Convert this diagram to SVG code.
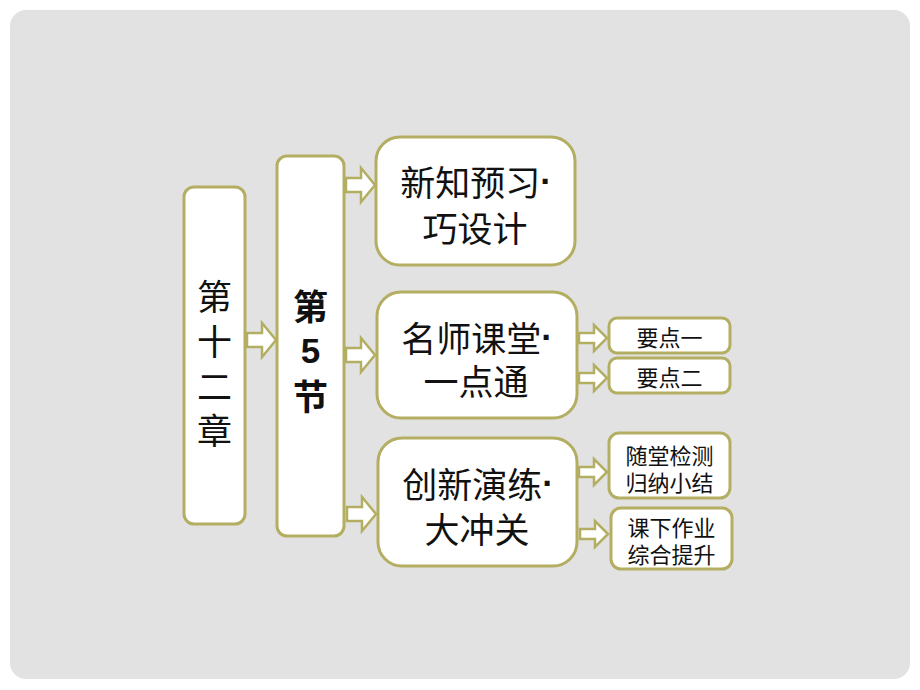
<svg xmlns="http://www.w3.org/2000/svg" width="920" height="690" viewBox="0 0 920 690">
<style>
.box{fill:#ffffff;stroke:#b3ae62;stroke-width:3}
.arr{fill:#ffffff;stroke:#b3ae62;stroke-width:2.5;stroke-linejoin:miter}
.t{font-family:"Noto Sans CJK SC","Noto Sans",sans-serif;fill:#111111;text-anchor:middle;dominant-baseline:central}
.big{font-size:35px}
.sm{font-size:22px}
.b{font-weight:bold}
.dot{font-family:"Liberation Sans",sans-serif;font-weight:bold}
</style>
<defs>
<path id="ab" d="M0,-7 H15 V-17 L29,0 L15,17 V7 H0 Z"/>
<path id="as" d="M0,-5 H15 V-13 L28,0 L15,13 V5 H0 Z"/>
</defs>
<rect x="0" y="0" width="920" height="690" fill="#ffffff"/>
<rect x="10" y="10" width="900" height="669" rx="16" fill="#e2e2e2"/>
<g id="connectors">
<use href="#ab" class="arr" x="247" y="340"/>
<use href="#ab" class="arr" x="346" y="185"/>
<use href="#ab" class="arr" x="346" y="355"/>
<use href="#ab" class="arr" x="347" y="514"/>
<use href="#as" class="arr" x="579" y="338"/>
<use href="#as" class="arr" x="579" y="378"/>
<use href="#as" class="arr" x="579" y="472"/>
<use href="#as" class="arr" x="580" y="534"/>
</g>
<g id="chapter">
<rect class="box" x="184" y="187" width="61" height="337" rx="10"/>
<text class="t big"><tspan x="214.5" y="294">第</tspan><tspan x="214.5" y="339">十</tspan><tspan x="214.5" y="384">二</tspan><tspan x="214.5" y="428">章</tspan></text>
</g>
<g id="section">
<rect class="box" x="277" y="156" width="67" height="380" rx="10"/>
<text class="t big b"><tspan x="310.5" y="304">第</tspan><tspan x="310.5" y="350" style="font-family:'Liberation Sans',sans-serif">5</tspan><tspan x="310.5" y="394">节</tspan></text>
</g>
<g id="preview">
<rect class="box" x="376" y="137" width="199" height="128" rx="24"/>
<text class="t big"><tspan x="476" y="180">新知预习<tspan class="dot">·</tspan></tspan><tspan x="475" y="226">巧设计</tspan></text>
</g>
<g id="lecture">
<rect class="box" x="377" y="292" width="200" height="126" rx="24"/>
<text class="t big"><tspan x="477" y="336">名师课堂<tspan class="dot">·</tspan></tspan><tspan x="476" y="379">一点通</tspan></text>
</g>
<g id="practice">
<rect class="box" x="378" y="438" width="199" height="128" rx="24"/>
<text class="t big"><tspan x="478" y="482">创新演练<tspan class="dot">·</tspan></tspan><tspan x="477" y="527">大冲关</tspan></text>
</g>
<g id="point1">
<rect class="box" x="609" y="318" width="121" height="35" rx="8"/>
<text class="t sm" x="669.5" y="336">要点一</text>
</g>
<g id="point2">
<rect class="box" x="609" y="358" width="121" height="35" rx="8"/>
<text class="t sm" x="669.5" y="376">要点二</text>
</g>
<g id="classtest">
<rect class="box" x="609" y="433" width="121" height="65" rx="10"/>
<text class="t sm"><tspan x="669.5" y="454">随堂检测</tspan><tspan x="669.5" y="481">归纳小结</tspan></text>
</g>
<g id="homework">
<rect class="box" x="611" y="508" width="121" height="61" rx="10"/>
<text class="t sm"><tspan x="671.5" y="526">课下作业</tspan><tspan x="671.5" y="553">综合提升</tspan></text>
</g>
</svg>
